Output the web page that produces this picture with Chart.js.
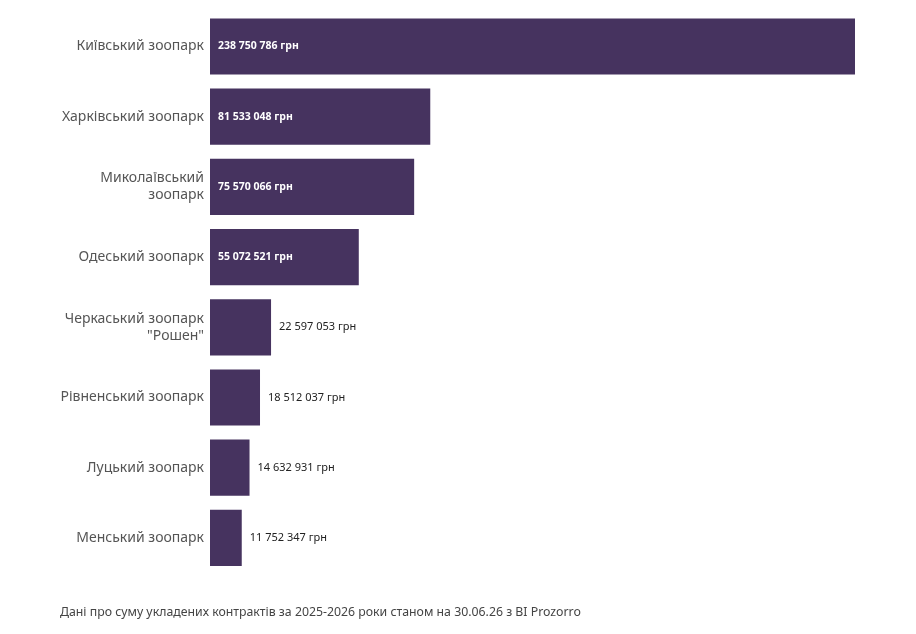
<!DOCTYPE html>
<html>
<head>
<meta charset="utf-8">
<script src="https://cdn.jsdelivr.net/npm/chart.js@4"></script>
<style>
  body { margin: 0; background: #fff; }
  #wrap { position: relative; width: 916px; height: 634px; overflow: hidden; }
  #myChartBar { position: absolute; left: 0; top: -3px; }
  #note { position: absolute; left: 60px; top: 603px; font: 12.3px "Noto Sans", sans-serif; color: #444; }
</style>
</head>
<body>
<div id="wrap">
  <canvas id="myChartBar" width="916" height="634"></canvas>
  <div id="note">Дані про суму укладених контрактів за 2025-2026 роки станом на 30.06.26 з BI Prozorro</div>
</div>
<script>
const zoos = [
  "Київський зоопарк",
  "Харківський зоопарк",
  ["Миколаївський", "зоопарк"],
  "Одеський зоопарк",
  ["Черкаський зоопарк", "\"Рошен\""],
  "Рівненський зоопарк",
  "Луцький зоопарк",
  "Менський зоопарк"
];
const amounts = [238750786, 81533048, 75570066, 55072521, 22597053, 18512037, 14632931, 11752347];

const fmt = v => String(v).replace(/\B(?=(\d{3})+(?!\d))/g, ' ') + ' грн';

// simple value labels: inside the bar when it is wide enough, else after it
const barLabels = {
  id: 'barLabels',
  afterDatasetsDraw(chart) {
    const ctx = chart.ctx;
    const meta = chart.getDatasetMeta(0);
    ctx.save();
    ctx.textBaseline = 'middle';
    meta.data.forEach((bar, i) => {
      const txt = fmt(amounts[i]);
      const inside = bar.x - bar.base > 120;
      ctx.font = inside ? 'bold 10.5px "Noto Sans", sans-serif' : '11px "Noto Sans", sans-serif';
      ctx.fillStyle = inside ? '#fff' : '#222';
      ctx.fillText(txt, inside ? bar.base + 8 : bar.x + 8, bar.y);
    });
    ctx.restore();
  }
};

const myChart1 = document.getElementById("myChartBar").getContext("2d");
new Chart(myChart1, {
  plugins: [barLabels],
  type: 'bar',
  data: {
    labels: zoos,
    datasets: [{
      data: amounts,
      backgroundColor: "#46335f",
      barPercentage: 0.8,
      categoryPercentage: 1.0,
    }],
  },
  options: {
    indexAxis: 'y',
    responsive: false,
    animation: false,
    layout: { padding: { top: 8, right: 61, bottom: 58, left: 0 } },
    plugins: { legend: { display: false }, tooltip: { enabled: false } },
    scales: {
      x: { display: false, min: 0, max: 238750786 },
      y: {
        afterFit: s => { s.width = 210; },
        grid: { display: false, drawTicks: false },
        border: { display: false },
        ticks: {
          padding: 6,
          color: '#555',
          font: { family: '"Noto Sans", sans-serif', size: 14, lineHeight: 1.2 },
        }
      }
    }
  }
});
</script>
</body>
</html>
